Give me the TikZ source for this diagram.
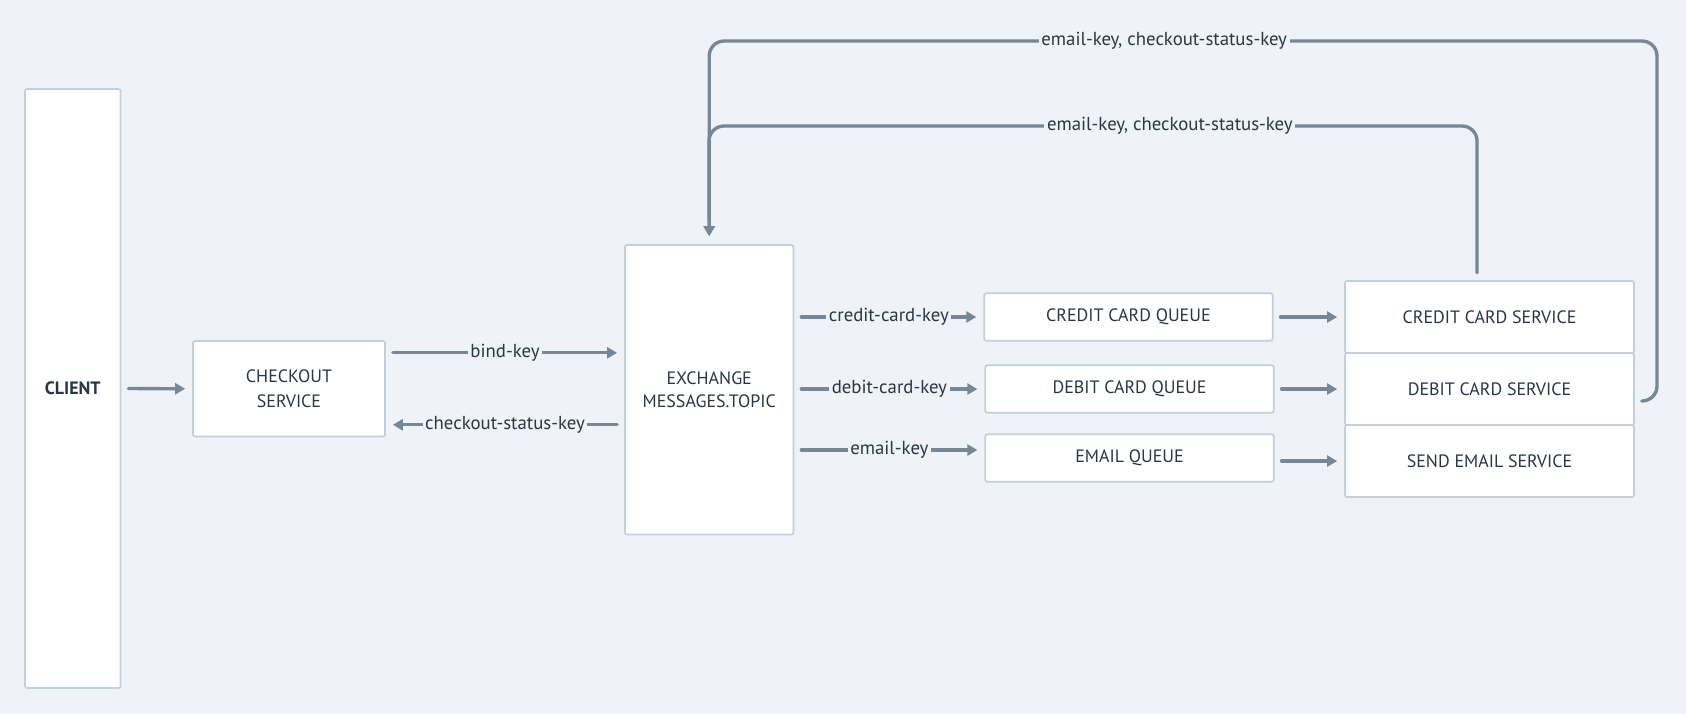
\documentclass[tikz,border=0pt]{standalone}
\usepackage{fontspec}
\setmainfont{PT Sans}
\usetikzlibrary{arrows.meta}

\definecolor{bg}{HTML}{EFF3F7}
\definecolor{edge}{HTML}{C3CFDB}
\definecolor{wire}{HTML}{778797}
\definecolor{ink}{HTML}{2A3643}

\begin{document}
\begin{tikzpicture}[x=0.02cm,y=-0.02cm,
  box/.style={draw=edge,line width=1pt,fill=white,rounded corners=1.2pt,text=ink,align=center,inner sep=0pt,font=\fontsize{10.2}{14}\selectfont},
  flow/.style={wire,line width=1.9pt,line cap=round,-{Triangle[length=0.2cm,width=0.22cm]},shorten >=0.14cm,shorten <=0.14cm},
  keylabel/.style={fill=bg,text=ink,inner sep=1.5pt,font=\fontsize{10.7}{12}\selectfont}]
  \fill[bg] (0,0) rectangle (1686,714); %background
  \useasboundingbox (0,0) rectangle (1686,714);

  \node[box,minimum width=1.91cm,minimum height=11.98cm,font=\bfseries\fontsize{10.2}{14}\selectfont] (client) at (72.8,388.5) {CLIENT};
  \node[box,minimum width=3.84cm,minimum height=1.91cm] (checkout) at (289,388.8) {CHECKOUT\\SERVICE};
  \node[box,minimum width=3.37cm,minimum height=5.79cm,font=\fontsize{10.2}{13}\selectfont] (exchange) at (709.2,389.7) {EXCHANGE\\MESSAGES.TOPIC};

  % queues
  \node[box,minimum width=5.77cm,minimum height=0.95cm] (creditq) at (1128.4,317) {CREDIT CARD QUEUE};
  \node[box,minimum width=5.77cm,minimum height=0.95cm] (debitq) at (1129.5,389) {DEBIT CARD QUEUE};
  \node[box,minimum width=5.77cm,minimum height=0.95cm] (emailq) at (1129.5,458) {EMAIL QUEUE};

  % services
  \node[box,minimum width=5.78cm,minimum height=1.44cm] (creditsvc) at (1489.5,317) {CREDIT CARD SERVICE};
  \node[box,minimum width=5.78cm,minimum height=1.44cm] (debitsvc) at (1489.5,389) {DEBIT CARD SERVICE};
  \node[box,minimum width=5.78cm,minimum height=1.44cm] (emailsvc) at (1489.5,461) {SEND EMAIL SERVICE};

  \draw[flow] (client.east) -- (checkout.west);
  \coordinate (bindout) at ([yshift=0.72cm]checkout.east);
  \coordinate (statusin) at ([yshift=-0.72cm]checkout.east);
  \draw[flow] (bindout) -- (bindout -| exchange.west) node[keylabel,midway] (bindkey) {bind-key};
  \draw[flow] (statusin -| exchange.west) -- (statusin) node[keylabel,midway] (statuskey) {checkout-status-key};

  \coordinate (emailin) at ([yshift=0.16cm]emailq.west);
  \draw[flow] (exchange.east |- creditq.west) -- (creditq.west) node[keylabel,midway] (creditkey) {credit-card-key};
  \draw[flow] (exchange.east |- debitq.west) -- (debitq.west) node[keylabel,midway] (debitkey) {debit-card-key};
  \draw[flow] (exchange.east |- emailin) -- (emailin) node[keylabel,midway] (emailkey) {email-key};

  \foreach \q/\s in {creditq/creditsvc,debitq/debitsvc,emailq/emailsvc}
    \draw[flow] (\s.west -| \q.east) -- (\s.west);

  % replies back to the exchange
  \coordinate (outerbend) at (1657,41);
  \coordinate (innerbend) at (709,126);
  \draw[flow,rounded corners=0.3cm,shorten >=0.16cm] ([yshift=-0.24cm]debitsvc.east) -| (outerbend) -| (exchange.north)
    node[keylabel,pos=0.26,sharp corners] (outerkey) {email-key, checkout-status-key};
  \draw[flow,rounded corners=0.3cm,shorten >=0.16cm,shorten <=0.15cm] ([xshift=-0.25cm]creditsvc.north) |- (innerbend)
    node[keylabel,pos=0.7,sharp corners] (innerkey) {email-key, checkout-status-key} -- (exchange.north);
\end{tikzpicture}
\end{document}
